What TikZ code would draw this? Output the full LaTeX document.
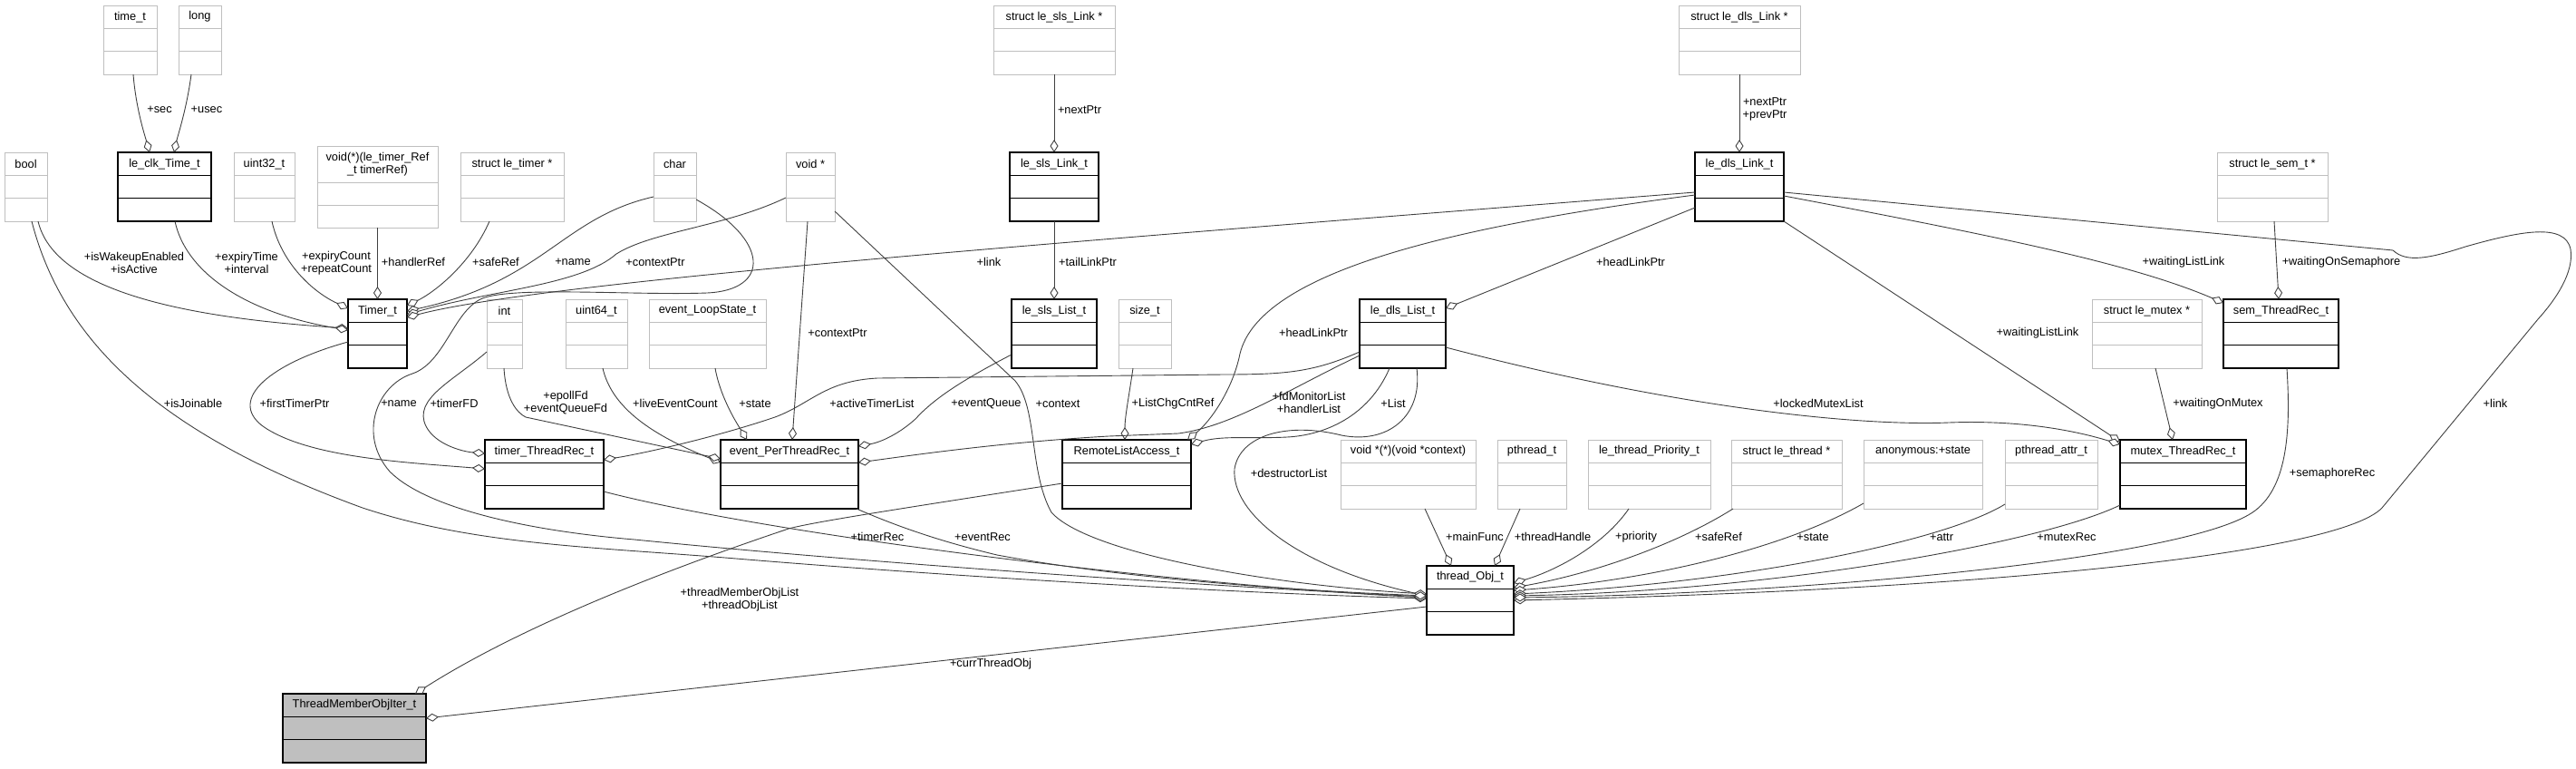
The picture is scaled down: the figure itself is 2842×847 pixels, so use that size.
\documentclass[tikz,border=0pt]{standalone}
\usepackage{fontspec}
\setmainfont{Liberation Sans}
\usetikzlibrary{arrows.meta,calc}
\definecolor{undoc}{RGB}{191,191,191}
\definecolor{edgec}{RGB}{64,64,64}
\newcommand\umlbox[8]{%
  \node[#2, anchor=north west, minimum width={(#5-#3)*1pt}, minimum height={(#6-#4)*1pt}] (#1) at (#3,#4) {};
  \draw[#2div] (#3,#7) -- (#5,#7) (#3,{(#7+#6)/2}) -- (#5,{(#7+#6)/2});
  \node[title] (#1t) at ({(#3+#5)/2},{(#4+#7)/2}) {#8};
}
\begin{document}
\begin{tikzpicture}[x=1pt,y=-1pt,font=\fontsize{12.8}{14}\selectfont,
  ub/.style={rectangle, draw=undoc, line width=1pt, fill=white, inner sep=0pt, outer sep=0pt},
  ubdiv/.style={draw=undoc, line width=1pt},
  db/.style={rectangle, draw=black, line width=1.1pt, fill=white, inner sep=0pt, outer sep=0pt},
  dbdiv/.style={draw=black, line width=1.1pt},
  cb/.style={db, fill=undoc},
  cbdiv/.style={dbdiv},
  title/.style={inner sep=0pt, align=center, text=black},
  lbl/.style={inner sep=0pt, align=center, text=black},
  edge/.style={draw=edgec, line width=0.9pt, -{Diamond[fill=white, length=14pt, width=9pt]}}]
\useasboundingbox (0,0) rectangle (2842,847);
% ---- boxes ----
\umlbox{timet}{ub}{114}{6}{173}{82}{31.3}{time\_t}
\umlbox{long}{ub}{197}{6}{244}{82}{31.3}{long}
\umlbox{bool}{ub}{5}{168}{52}{244}{193.3}{bool}
\umlbox{clk}{db}{130}{168}{233}{244}{193.3}{le\_clk\_Time\_t}
\umlbox{u32}{ub}{258}{168}{325}{244}{193.3}{uint32\_t}
\umlbox{hfn}{ub}{350}{161}{483}{251}{201}{void(*)(le\_timer\_Ref\\\_t timerRef)}
\umlbox{stimer}{ub}{508}{168}{622}{244}{193.3}{struct le\_timer *}
\umlbox{timer}{db}{384}{330}{449}{406}{355.3}{Timer\_t}
\umlbox{sslsl}{ub}{1096}{6}{1230}{82}{31.3}{struct le\_sls\_Link *}
\umlbox{char}{ub}{721}{168}{768}{244}{193.3}{char}
\umlbox{voidp}{ub}{867}{168}{921}{244}{193.3}{void *}
\umlbox{slslink}{db}{1114}{168}{1212}{244}{193.3}{le\_sls\_Link\_t}
\umlbox{slslist}{db}{1116}{330}{1210}{406}{355.3}{le\_sls\_List\_t}
\umlbox{sizet}{ub}{1234}{330}{1292}{406}{355.3}{size\_t}
\umlbox{loopstate}{ub}{716}{330}{845}{406}{355.3}{event\_LoopState\_t}
\umlbox{int}{ub}{537}{330}{576}{406}{355.3}{int}
\umlbox{u64}{ub}{624}{330}{692}{406}{355.3}{uint64\_t}
\umlbox{timerrec}{db}{535}{485}{666}{561}{510.3}{timer\_ThreadRec\_t}
\umlbox{eventrec}{db}{795}{485}{947}{561}{510.3}{event\_PerThreadRec\_t}
\umlbox{remote}{db}{1172}{485}{1314}{561}{510.3}{RemoteListAccess\_t}
\umlbox{sdlsl}{ub}{1852}{6}{1986}{82}{31.3}{struct le\_dls\_Link *}
\umlbox{dlslink}{db}{1870}{168}{1968}{244}{193.3}{le\_dls\_Link\_t}
\umlbox{dlslist}{db}{1500}{330}{1595}{406}{355.3}{le\_dls\_List\_t}
\umlbox{ssem}{ub}{2446}{168}{2568}{244}{193.3}{struct le\_sem\_t *}
\umlbox{smutex}{ub}{2308}{330}{2429}{406}{355.3}{struct le\_mutex *}
\umlbox{semrec}{db}{2453}{330}{2580}{406}{355.3}{sem\_ThreadRec\_t}
\umlbox{iter}{cb}{312}{765}{470}{841}{790.3}{ThreadMemberObjIter\_t}
\umlbox{mainfn}{ub}{1479}{485}{1628}{561}{510.3}{void *(*)(void *context)}
\umlbox{pthread}{ub}{1652}{485}{1728}{561}{510.3}{pthread\_t}
\umlbox{prio}{ub}{1752}{485}{1887}{561}{510.3}{le\_thread\_Priority\_t}
\umlbox{sthread}{ub}{1910}{485}{2032}{561}{510.3}{struct le\_thread *}
\umlbox{anon}{ub}{2056}{485}{2187}{561}{510.3}{anonymous:+state}
\umlbox{thread}{db}{1574}{624}{1670}{700}{649.3}{thread\_Obj\_t}
\umlbox{pattr}{ub}{2212}{485}{2314}{561}{510.3}{pthread\_attr\_t}
\umlbox{mutexrec}{db}{2339}{485}{2478}{561}{510.3}{mutex\_ThreadRec\_t}
% ---- edges ----
\draw[edge] ($(timet.north west)+(33,76)$) .. controls (150,120) and (160,150) .. ($(clk.north west)+(35,0)$);
\draw[edge] ($(long.north west)+(14,76)$) .. controls (206,120) and (196,150) .. ($(clk.north west)+(62,0)$);
\draw[edge] (sslsl.south) -- (slslink.north);
\draw[edge] (slslink.south) -- (slslist.north);
\draw[edge] (sdlsl.south) -- (dlslink.north);
\draw[edge] ($(ssem.north west)+(63,76)$) -- ($(semrec.north west)+(61,0)$);
\draw[edge] ($(smutex.north west)+(70,76)$) -- ($(mutexrec.north west)+(58,0)$);
\draw[edge] ($(sizet.north west)+(16,76)$) .. controls (1245,440) and (1241,460) .. ($(remote.north west)+(69,0)$);
\draw[edge] (hfn.south) -- (timer.north);
\draw[edge] ($(u32.north west)+(42,76)$) .. controls (310,290) and (345,322) .. ($(timer.north west)+(0,10)$);
\draw[edge] ($(bool.north west)+(37,76)$) .. controls (60,320) and (200,350) .. ($(timer.north west)+(0,32)$);
\draw[edge] ($(clk.north west)+(63,76)$) .. controls (205,300) and (270,345) .. ($(timer.north west)+(0,34)$);
\draw[edge] ($(stimer.north west)+(32,76)$) .. controls (520,290) and (480,322) .. ($(timer.north west)+(65,7)$);
\draw[edge] ($(char.north west)+(0,49)$) .. controls (620,240) and (600,310) .. ($(timer.north west)+(65,13)$);
\draw[edge] ($(voidp.north west)+(0,50)$) .. controls (800,250) and (720,255) .. (680,280) .. controls (640,315) and (540,320) .. ($(timer.north west)+(65,17)$);
\draw[edge] ($(dlslink.north west)+(0,44)$) .. controls (1200,265) and (600,310) .. ($(timer.north west)+(65,20)$);
\draw[edge] ($(dlslink.north west)+(0,61)$) -- ($(dlslist.north west)+(95,10)$);
\draw[edge] ($(dlslink.north west)+(0,47)$) .. controls (1600,250) and (1390,300) .. (1368,390) .. controls (1360,430) and (1335,465) .. ($(remote.north west)+(138,0)$);
\draw[edge] ($(dlslink.north west)+(98,44)$) -- (2640,276) .. controls (2655,290) and (2680,285) .. (2720,272) .. controls (2780,255) and (2830,245) .. (2836,275) .. controls (2840,300) and (2820,330) .. (2800,352) -- (2628,560) .. controls (2580,610) and (2200,650) .. ($(thread.north west)+(96,38)$);
\draw[edge] ($(dlslink.north west)+(98,48)$) .. controls (2200,260) and (2350,290) .. ($(semrec.north west)+(0,4)$);
\draw[edge] ($(dlslink.north west)+(98,76)$) -- ($(mutexrec.north west)+(0,2)$);
\draw[edge] ($(dlslist.north west)+(95,53)$) .. controls (1850,450) and (2050,470) .. (2150,466) .. controls (2230,463) and (2290,475) .. ($(mutexrec.north west)+(0,5)$);
\draw[edge] ($(dlslist.north west)+(0,58)$) .. controls (1450,410) and (1420,413) .. (1350,413) -- (968,417) .. controls (910,420) and (895,445) .. (855,460) .. controls (790,482) and (710,500) .. ($(timerrec.north west)+(131,22)$);
\draw[edge] ($(dlslist.north west)+(0,62)$) .. controls (1420,430) and (1360,470) .. (1300,478) -- (1223,481) .. controls (1100,488) and (1000,503) .. ($(eventrec.north west)+(152,25)$);
\draw[edge] ($(dlslist.north west)+(33,76)$) .. controls (1510,460) and (1460,480) .. (1420,482) .. controls (1380,484) and (1350,480) .. ($(remote.north west)+(142,5)$);
\draw[edge] ($(dlslist.north west)+(63,76)$) .. controls (1570,460) and (1530,490) .. (1480,480) .. controls (1420,465) and (1368,480) .. (1362,517) .. controls (1358,565) and (1430,625) .. ($(thread.north west)+(0,33)$);
\draw[edge] ($(slslist.north west)+(0,61)$) .. controls (1060,420) and (1030,440) .. (1010,462) .. controls (990,480) and (970,488) .. ($(eventrec.north west)+(152,7)$);
\draw[edge] ($(voidp.north west)+(24,76)$) -- ($(eventrec.north west)+(79,0)$);
\draw[edge] ($(voidp.north west)+(54,65)$) -- (1120,420) .. controls (1145,450) and (1135,520) .. (1160,565) .. controls (1200,610) and (1400,645) .. ($(thread.north west)+(0,31)$);
\draw[edge] ($(loopstate.north west)+(73,76)$) .. controls (795,440) and (815,470) .. ($(eventrec.north west)+(29,0)$);
\draw[edge] ($(u64.north west)+(41,76)$) .. controls (675,450) and (720,480) .. ($(eventrec.north west)+(0,25)$);
\draw[edge] ($(int.north west)+(19,76)$) .. controls (558,440) and (570,455) .. (580,460) -- ($(eventrec.north west)+(0,21)$);
\draw[edge] ($(int.north west)+(0,58)$) .. controls (500,420) and (455,440) .. (470,470) .. controls (480,490) and (510,498) .. ($(timerrec.north west)+(0,15)$);
\draw[edge] ($(timer.north west)+(0,47)$) .. controls (300,400) and (250,440) .. (290,470) .. controls (340,505) and (450,510) .. ($(timerrec.north west)+(0,32)$);
\draw[edge] ($(bool.north west)+(30,76)$) .. controls (70,380) and (180,480) .. (400,560) .. controls (520,600) and (650,603) .. (800,615) .. controls (1100,640) and (1400,655) .. ($(thread.north west)+(0,36)$);
\draw[edge] ($(char.north west)+(47,52)$) .. controls (850,265) and (850,320) .. (780,323) .. controls (700,326) and (560,315) .. (530,330) .. controls (500,345) and (490,400) .. (455,412) .. controls (415,425) and (395,480) .. (430,520) .. controls (470,560) and (580,585) .. (700,595) .. controls (1000,625) and (1400,650) .. ($(thread.north west)+(0,34)$);
\draw[edge] ($(timerrec.north west)+(131,57)$) .. controls (850,590) and (1300,645) .. ($(thread.north west)+(0,35)$);
\draw[edge] ($(eventrec.north west)+(150,76)$) .. controls (1000,585) and (1050,600) .. (1100,612) .. controls (1250,640) and (1450,652) .. ($(thread.north west)+(0,33)$);
\draw[edge] ($(remote.north west)+(0,48)$) .. controls (1000,560) and (900,575) .. (870,583) .. controls (700,640) and (560,700) .. ($(iter.north west)+(146,0)$);
\draw[edge] ($(thread.north west)+(0,45)$) -- ($(iter.north west)+(158,27)$);
\draw[edge] ($(mainfn.north west)+(93,76)$) -- ($(thread.north west)+(27,0)$);
\draw[edge] ($(pthread.north west)+(25,76)$) -- ($(thread.north west)+(75,0)$);
\draw[edge] ($(prio.north west)+(45,76)$) .. controls (1770,600) and (1720,628) .. ($(thread.north west)+(96,19)$);
\draw[edge] ($(sthread.north west)+(2,76)$) .. controls (1850,600) and (1760,632) .. ($(thread.north west)+(96,24)$);
\draw[edge] ($(anon.north west)+(0,70)$) .. controls (1960,610) and (1800,642) .. ($(thread.north west)+(96,27)$);
\draw[edge] ($(pattr.north west)+(0,71)$) .. controls (2140,600) and (1900,645) .. ($(thread.north west)+(96,31)$);
\draw[edge] ($(mutexrec.north west)+(0,72)$) .. controls (2250,600) and (1950,652) .. ($(thread.north west)+(96,33)$);
\draw[edge] ($(semrec.north west)+(70,76)$) .. controls (2527,470) and (2525,535) .. (2488,563) .. controls (2420,615) and (2000,655) .. ($(thread.north west)+(96,35)$);
% ---- labels ----
\node[lbl] (l1) at (176,121) {+sec};
\node[lbl] (l2) at (228,121) {+usec};
\node[lbl] (l3) at (1191,121) {+nextPtr};
\node[lbl] (l4) at (1947,120) {+nextPtr\\+prevPtr};
\node[lbl] (l5) at (148,290) {+isWakeupEnabled\\+isActive};
\node[lbl] (l6) at (272,290) {+expiryTime\\+interval};
\node[lbl] (l7) at (371,290) {+expiryCount\\+repeatCount};
\node[lbl] (l8) at (456,289) {+handlerRef};
\node[lbl] (l9) at (547,289) {+safeRef};
\node[lbl] (l10) at (632,289) {+name};
\node[lbl] (l11) at (723,289) {+contextPtr};
\node[lbl] (l12) at (1091,289) {+link};
\node[lbl] (l13) at (1200,289) {+tailLinkPtr};
\node[lbl] (l14) at (1799,289) {+headLinkPtr};
\node[lbl] (l15) at (2409,289) {+waitingListLink};
\node[lbl] (l16) at (2583,289) {+waitingOnSemaphore};
\node[lbl] (l17) at (924,367) {+contextPtr};
\node[lbl] (l18) at (1449,367) {+headLinkPtr};
\node[lbl] (l19) at (2248,367) {+waitingListLink};
\node[lbl] (l20) at (213,445) {+isJoinable};
\node[lbl] (l21) at (325,445) {+firstTimerPtr};
\node[lbl] (l22) at (440,445) {+name};
\node[lbl] (l23) at (501,445) {+timerFD};
\node[lbl] (l24) at (624,444) {+epollFd\\+eventQueueFd};
\node[lbl] (l25) at (745,445) {+liveEventCount};
\node[lbl] (l26) at (833,445) {+state};
\node[lbl] (l27) at (962,445) {+activeTimerList};
\node[lbl] (l28) at (1088,445) {+eventQueue};
\node[lbl] (l29) at (1167,445) {+context};
\node[lbl] (l30) at (1294,445) {+ListChgCntRef};
\node[lbl] (l31) at (1444,444) {+fdMonitorList\\+handlerList};
\node[lbl] (l32) at (1537,445) {+List};
\node[lbl] (l33) at (2006,445) {+lockedMutexList};
\node[lbl] (l34) at (2447,445) {+waitingOnMutex};
\node[lbl] (l35) at (2753,445) {+link};
\node[lbl] (l36) at (1422,522) {+destructorList};
\node[lbl] (l37) at (2573,522) {+semaphoreRec};
\node[lbl] (l38) at (968,592) {+timerRec};
\node[lbl] (l39) at (1084,592) {+eventRec};
\node[lbl] (l40) at (1627,592) {+mainFunc};
\node[lbl] (l41) at (1713,592) {+threadHandle};
\node[lbl] (l42) at (1805,592) {+priority};
\node[lbl] (l43) at (1896,592) {+safeRef};
\node[lbl] (l44) at (2000,592) {+state};
\node[lbl] (l45) at (2142,592) {+attr};
\node[lbl] (l46) at (2280,592) {+mutexRec};
\node[lbl] (l47) at (816,661) {+threadMemberObjList\\+threadObjList};
\node[lbl] (l48) at (1093,732) {+currThreadObj};
\end{tikzpicture}
\end{document}
